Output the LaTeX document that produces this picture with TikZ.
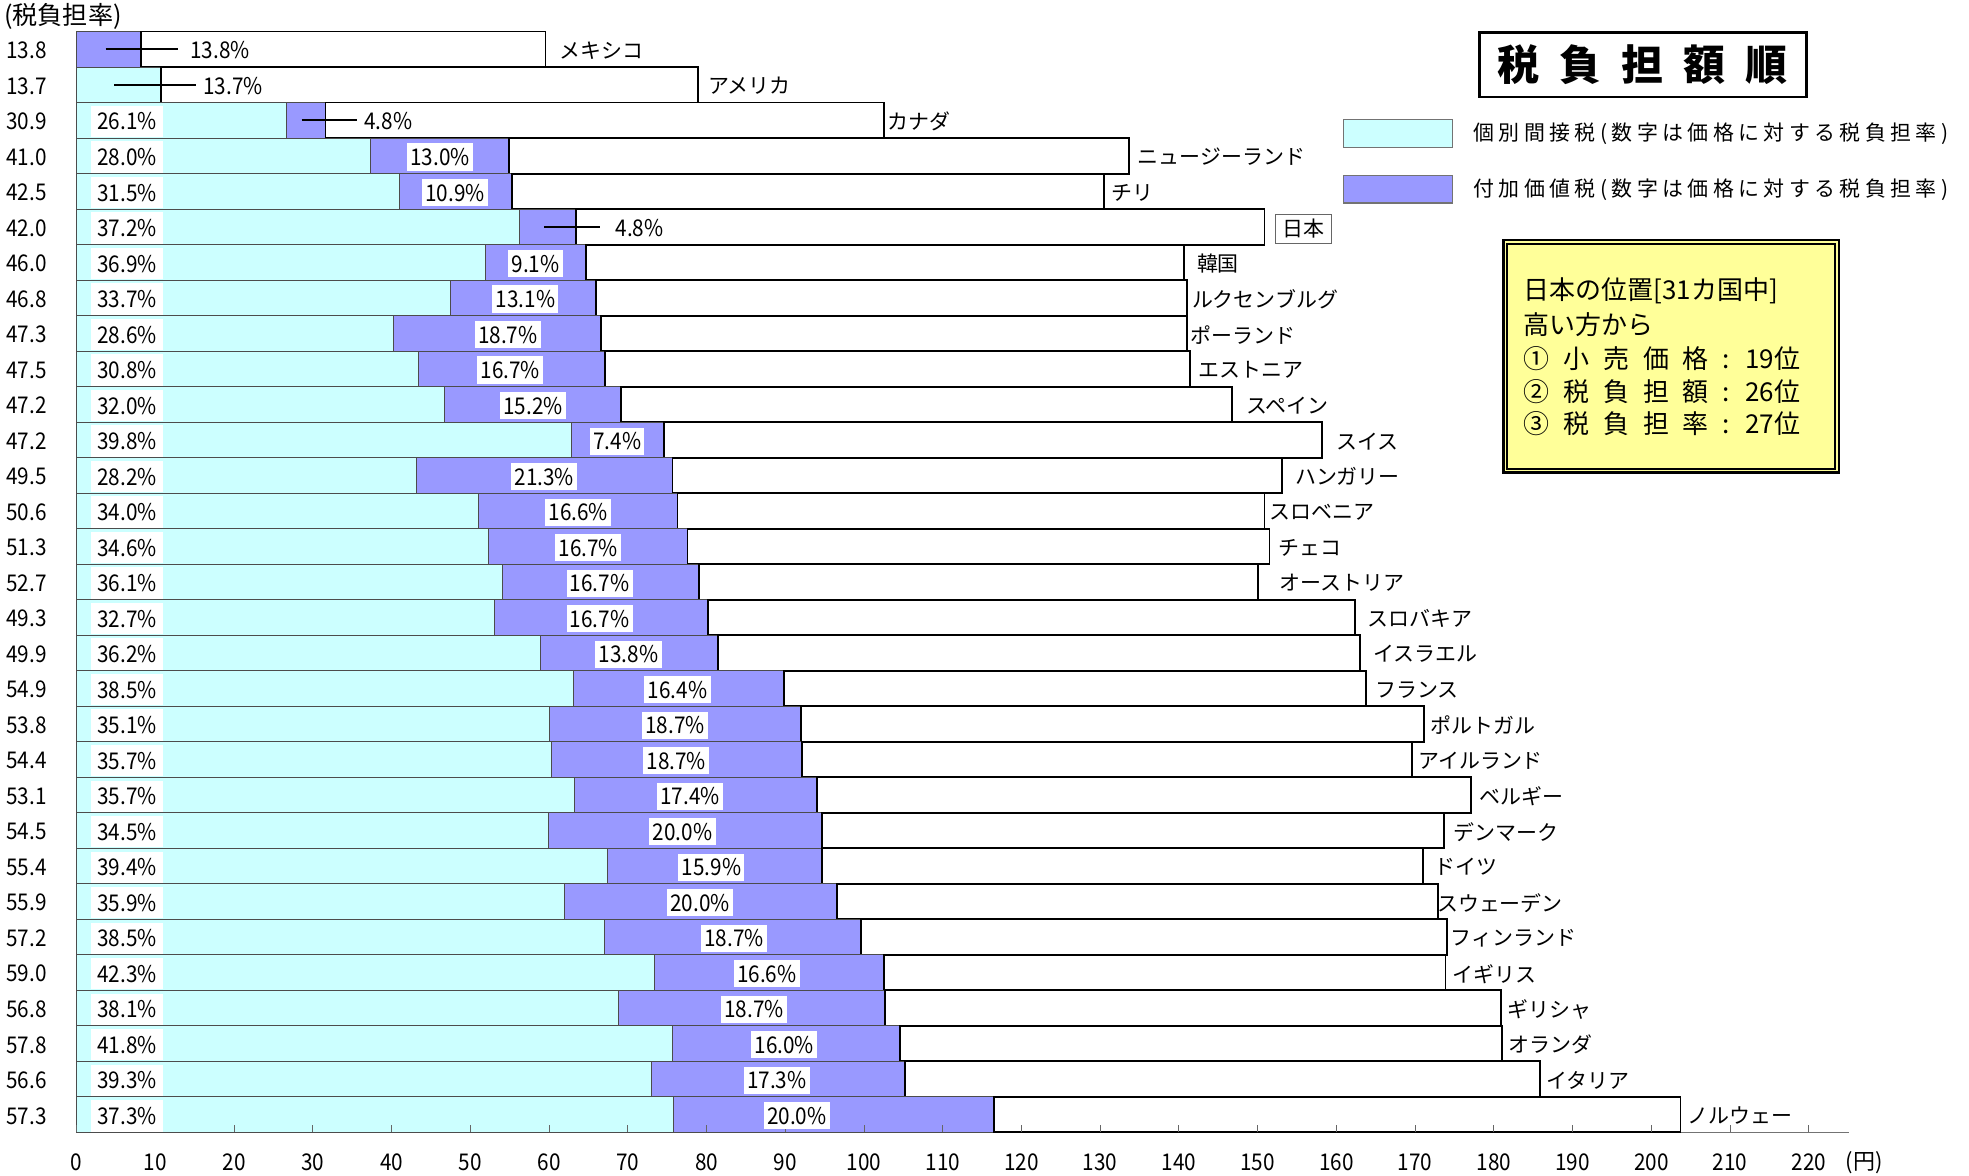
\documentclass[tikz,border=0pt]{standalone}
\usepackage{fontspec}
\setmainfont{Noto Sans CJK JP}
\newfontfamily\numfont[FakeStretch=0.9]{Noto Sans CJK JP}
\definecolor{cyanc}{HTML}{CCFFFF}
\definecolor{vatc}{HTML}{9999FF}
\definecolor{infoc}{HTML}{FFFF99}
\newcommand\titlesp{\spaceskip=0.48em\relax}
\newcommand\infosp{\spaceskip=0.53em\relax}
\tikzset{
  cbar/.style={fill=cyanc, draw=black!70, line width=0.45pt},
  vbar/.style={fill=vatc, draw=black!70, line width=0.45pt},
  wbar/.style={fill=white, draw=black, line width=0.9pt},
  pct/.style={fill=white, inner xsep=1.6pt, inner ysep=0pt, minimum height=13pt, font=\numfont\fontsize{11}{12}\selectfont},
  cpct/.style={pct, minimum width=34pt, minimum height=15pt},
  lead/.style={inner xsep=0pt, inner ysep=0pt, anchor=west, font=\numfont\fontsize{11}{12}\selectfont},
  leader/.style={draw=black, line width=0.8pt},
  rowval/.style={font=\numfont\fontsize{11}{12}\selectfont, inner sep=0pt},
  cname/.style={anchor=west, inner sep=0pt, font=\fontsize{10}{12}\selectfont},
  axlbl/.style={font=\numfont\fontsize{11}{12}\selectfont, inner sep=0pt},
  axisline/.style={draw=black!55, line width=0.6pt},
  tickline/.style={draw=black!60, line width=0.5pt},
  swatch/.style={draw=black!55, line width=0.6pt, minimum width=52pt, minimum height=13.2pt, inner sep=0pt},
  legtxt/.style={anchor=west, inner sep=0pt, font={\fontsize{10}{12}\selectfont\addfontfeature{LetterSpace=21}}},
  infotxt/.style={anchor=west, inner sep=0pt, font={\fontsize{12.4}{14}\selectfont\infosp}}
}
\begin{document}
\begin{tikzpicture}[x=0.6pt,y=-0.6pt]
\fill[white] (0,0) rectangle (1566.5,935.6);
\useasboundingbox (0,0) rectangle (1566.5,935.6);

% axes
\draw[axisline] (61,25) -- (61,900.8);
\draw[axisline] (61,900.8) -- (1471,900.8);

% bars
\foreach \rv/\c/\p/\w [count=\i from 0] in {
13.8/61/112/434, 13.7/128/128/555, 30.9/228/259/703, 41.0/295/405/898,
42.5/318/407/878, 42.0/413/458/1006, 46.0/386/466/942, 46.8/358/474/944,
47.3/313/478/944, 47.5/333/481/947, 47.2/354/494/980, 47.2/455/528/1052,
49.5/331/535/1020, 50.6/381/539/1006, 51.3/389/547/1010, 52.7/400/556/1001,
49.3/393/563/1078, 49.9/430/571/1082, 54.9/456/624/1087, 53.8/437/637/1133,
54.4/439/638/1123, 53.1/457/650/1170, 54.5/436/654/1149, 55.4/483/654/1132,
55.9/449/666/1144, 57.2/481/685/1151, 59.0/521/703/1150, 56.8/492/704/1194,
57.8/535/716/1195, 56.6/518/720/1225, 57.3/536/791/1337}
{
  \pgfmathsetmacro\yc{39.2+28.25*\i}
  \pgfmathsetmacro\yt{\yc-14.125}
  \pgfmathsetmacro\yb{\yc+14.125}
  \draw[cbar] (61,\yt) rectangle (\c,\yb);
  \draw[vbar] (\c,\yt) rectangle (\p,\yb);
  \draw[wbar] (\p,\yt) rectangle (\w,\yb);
  \node[rowval] (r\i) at (21,\yc+1) {\rv};
}

% ticks and tick labels
\foreach \k in {0,...,22} {
  \pgfmathsetmacro\xx{61+62.64*\k}
  \pgfmathtruncatemacro\lab{\k*10}
  \draw[tickline] (\xx,900.8) -- (\xx,895.3);
  \node[axlbl] (t\k) at (\xx,925) {\lab};
}
\node[inner sep=0pt, font=\fontsize{10.5}{12}\selectfont] (unit) at (1483,925) {(円)};

% percentage labels
\foreach \i/\cp/\vp/\xm in {3/28.0/13.0/350, 4/31.5/10.9/362, 6/36.9/9.1/426,
7/33.7/13.1/418, 8/28.6/18.7/404, 9/30.8/16.7/406, 10/32.0/15.2/424,
11/39.8/7.4/491, 12/28.2/21.3/433, 13/34.0/16.6/460, 14/34.6/16.7/468,
15/36.1/16.7/477, 16/32.7/16.7/477, 17/36.2/13.8/500, 18/38.5/16.4/539,
19/35.1/18.7/537, 20/35.7/18.7/538, 21/35.7/17.4/549, 22/34.5/20.0/543,
23/39.4/15.9/566, 24/35.9/20.0/557, 25/38.5/18.7/584, 26/42.3/16.6/610,
27/38.1/18.7/600, 28/41.8/16.0/624, 29/39.3/17.3/618, 30/37.3/20.0/634}
{
  \pgfmathsetmacro\yc{39.2+28.25*\i}
  \node[cpct] (cl\i) at (101,\yc+1) {\cp\%};
  \node[pct] (vl\i) at (\xm,\yc+1) {\vp\%};
}
\node[cpct] (cl2) at (101,96.7) {26.1\%};
\node[cpct] (cl5) at (101,181.45) {37.2\%};

% leader-line labels
\coordinate (m0) at (84,39.2);
\node[lead, inner xsep=5.5pt] (ml0) at (142,40) {13.8\%};
\draw[leader] (m0) -- (ml0.west |- m0);
\coordinate (m1) at (91,67.45);
\node[lead, inner xsep=3.3pt] (ml1) at (156,68.2) {13.7\%};
\draw[leader] (m1) -- (ml1.west |- m1);
\coordinate (m2) at (240,95.7);
\node[lead, inner xsep=3.3pt] (ml2) at (284,96.5) {4.8\%};
\draw[leader] (m2) -- (ml2.west |- m2);
\coordinate (m5) at (433,180.45);
\node[lead, inner xsep=7.5pt] (ml5) at (477,181.2) {4.8\%};
\draw[leader] (m5) -- (ml5.west |- m5);

% country names
\foreach \i/\nm/\lx in {0/メキシコ/445, 1/アメリカ/563, 2/カナダ/706,
3/ニュージーランド/905, 4/チリ/884, 6/韓国/952, 7/ルクセンブルグ/948,
8/ポーランド/947, 9/エストニア/953, 10/スペイン/991, 11/スイス/1063,
12/ハンガリー/1030, 13/スロベニア/1010, 14/チェコ/1017, 15/オーストリア/1018,
16/スロバキア/1088, 17/イスラエル/1092, 18/フランス/1094, 19/ポルトガル/1138,
20/アイルランド/1128, 21/ベルギー/1177, 22/デンマーク/1156, 23/ドイツ/1141,
24/スウェーデン/1143, 25/フィンランド/1154, 26/イギリス/1155, 27/ギリシャ/1199,
28/オランダ/1200, 29/イタリア/1230, 30/ノルウェー/1342}
{
  \pgfmathsetmacro\yc{39.2+28.25*\i}
  \node[cname] (n\i) at (\lx,\yc+1) {\nm};
}
\node[cname, draw=black!60, line width=0.5pt, fill=white, minimum width=27pt, minimum height=14pt] (n5) at (1014,182) {日本};

% top-left axis title
\node[anchor=west, inner sep=0pt, font=\fontsize{12}{14}\selectfont] (ytitle) at (3,13) {(税負担率)};

% title box
\node[draw=black, line width=1.2pt, minimum width=156pt, minimum height=30.6pt, inner sep=0pt,
      font={\fontsize{20}{22}\selectfont\bfseries\titlesp}] (title) at (1307,51.5) {税 負 担 額 順};

% legend
\node[swatch, fill=cyanc] (sw1) at (1112,106.2) {};
\node[legtxt] (lt1) at (1172,106.5) {個別間接税(数字は価格に対する税負担率)};
\node[swatch, fill=vatc] (sw2) at (1112,150.5) {};
\node[legtxt] (lt2) at (1172,150.8) {付加価値税(数字は価格に対する税負担率)};

% info box
\node[draw=black, line width=1.3pt, fill=infoc, minimum width=160.2pt, minimum height=111pt, inner sep=0pt] (info) at (1329.5,283.5) {};
\draw[black, line width=0.8pt] ([shift={(4,4)}]info.north west) rectangle ([shift={(-4,-4)}]info.south east);
\node[infotxt] (i1) at (1212,231) {日本の位置[31カ国中]};
\node[infotxt] (i2) at (1212,258) {高い方から};
\node[infotxt] (i3) at (1212,285) {① 小 売 価 格 : 19位};
\node[infotxt] (i4) at (1212,311.5) {② 税 負 担 額 : 26位};
\node[infotxt] (i5) at (1212,337) {③ 税 負 担 率 : 27位};
\end{tikzpicture}
\end{document}
